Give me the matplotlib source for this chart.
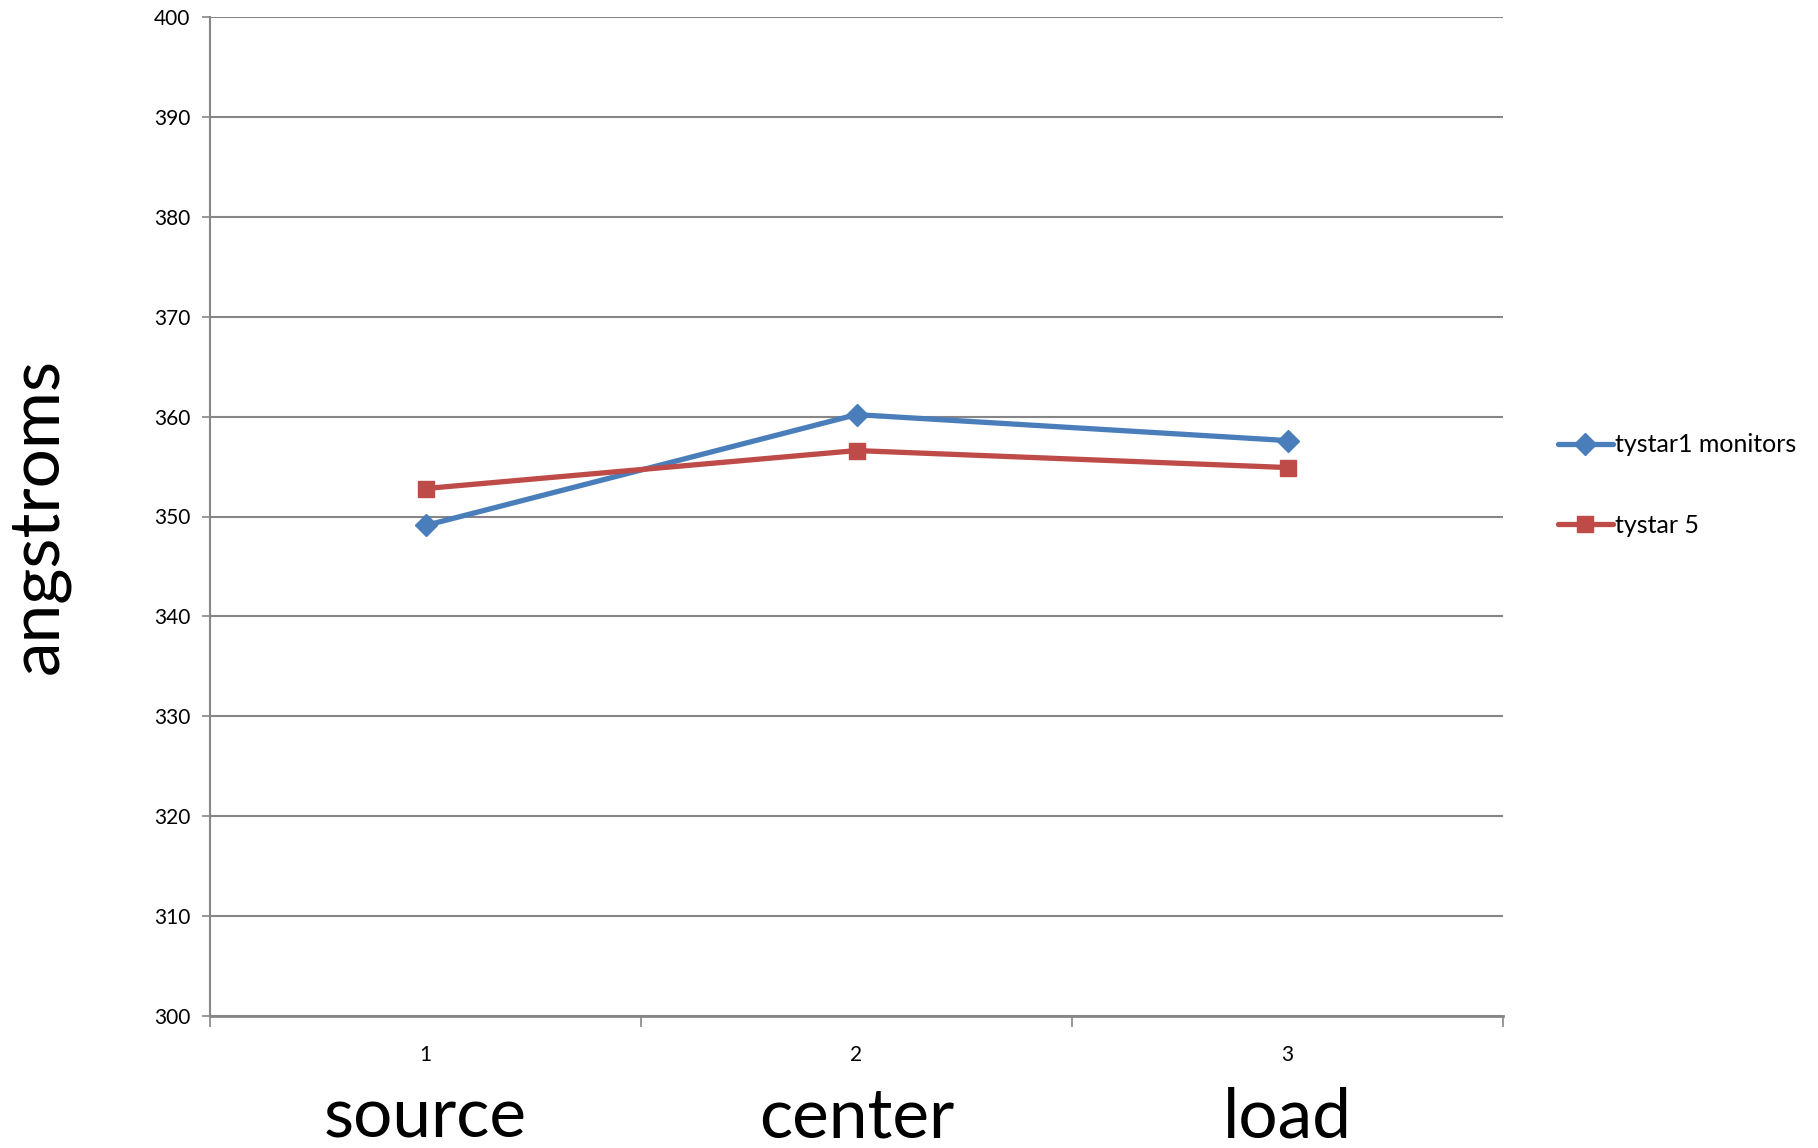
import numpy as np
import matplotlib.pyplot as plt
from matplotlib.transforms import blended_transform_factory

plt.rcParams['font.family'] = ['Lato', 'DejaVu Sans']

## data ------------------------------------------------------------------
positions = [1, 2, 3]
categoryNames = ['source', 'center', 'load']
tystar1Monitors = [349.1, 360.2, 357.6]
tystar5 = [352.8, 356.6, 354.9]
seriesLabels = ['tystar1 monitors', 'tystar 5']
yTicks = np.arange(300, 401, 10)

## figure ----------------------------------------------------------------
fig = plt.figure(figsize=(18.18, 11.48), dpi=100)
ax = fig.add_axes([210/1818, 1 - 1016/1148, (1503-210)/1818, (1016-17)/1148])

gridColor = '#868686'
blue = '#4A7EBB'
red = '#BE4B48'

ax.plot(positions, tystar1Monitors, color=blue, lw=3.8, marker='D', ms=11,
        label=seriesLabels[0], solid_capstyle='round')
ax.plot(positions, tystar5, color=red, lw=3.8, marker='s', ms=12,
        label=seriesLabels[1], solid_capstyle='round')

ax.set_xlim(0.5, 3.5)
ax.set_ylim(300, 400)
ax.set_yticks(yTicks)
ax.yaxis.grid(True, color=gridColor, lw=1.5)
ax.set_axisbelow(True)
ax.tick_params(axis='y', length=6, width=1.2, color=gridColor, labelsize=15, pad=8)

# category boundaries as major ticks, numbers as minor labels
ax.set_xticks([0.5, 1.5, 2.5, 3.5])
ax.set_xticklabels([])
ax.set_xticks(positions, minor=True)
ax.set_xticklabels([str(p) for p in positions], minor=True)
ax.tick_params(axis='x', which='major', length=8, width=1.2, color=gridColor)
ax.tick_params(axis='x', which='minor', length=0, labelsize=15, pad=21)

for side in ['top', 'right']:
    ax.spines[side].set_visible(False)
ax.spines['left'].set_color(gridColor)
ax.spines['bottom'].set_color(gridColor)
ax.spines['left'].set_linewidth(1.5)
ax.spines['bottom'].set_linewidth(2)

trans = blended_transform_factory(ax.transData, ax.transAxes)
for p, name in zip(positions, categoryNames):
    ax.text(p, -0.102, name, transform=trans, ha='center', va='center', fontsize=50)

fig.text(38/1818, 1 - 516/1148, 'angstroms', rotation=90, ha='center', va='center', fontsize=50)

leg = fig.legend(loc='center left', bbox_to_anchor=(1535/1818, 1 - 485/1148),
                 frameon=False, fontsize=18, handlelength=2.2, handletextpad=0.1,
                 labelspacing=2.3)

fig.savefig('out.png', dpi=100)
